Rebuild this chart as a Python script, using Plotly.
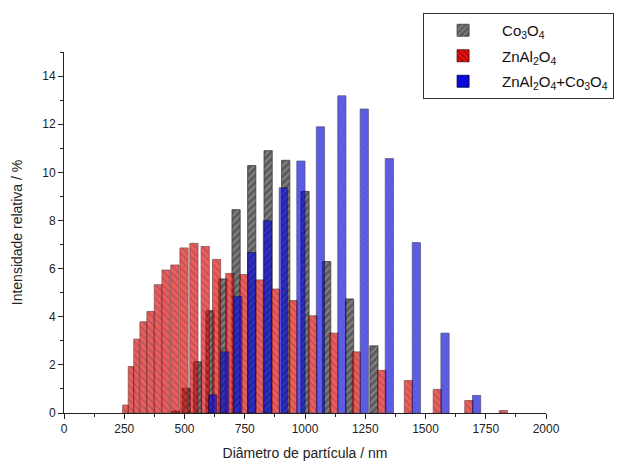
import plotly.graph_objects as go

# ---- data ----
co3o4_x = [463, 507, 554, 606, 659, 714, 779, 847, 920, 1000, 1090, 1185, 1286]
co3o4_y = [0.08, 1.03, 2.13, 4.25, 5.57, 8.45, 10.28, 10.9, 10.5, 9.21, 6.29, 4.74, 2.79]

znal_x = [255, 278, 301, 329, 359, 390, 423, 460, 498, 539, 586, 633, 688, 747,
          812, 878, 951, 1033, 1120, 1213, 1319, 1429, 1549, 1680, 1823]
znal_y = [0.33, 1.93, 3.07, 3.79, 4.22, 5.33, 5.94, 6.15, 6.86, 7.05, 6.92, 6.38,
          5.80, 5.75, 5.53, 5.15, 4.67, 4.04, 3.32, 2.54, 1.77, 1.35, 0.98, 0.52, 0.10]

mix_x = [617, 667, 721, 779, 844, 910, 983, 1064, 1153, 1246, 1350, 1462, 1581, 1712]
mix_y = [0.75, 2.54, 4.85, 6.67, 7.99, 9.36, 10.47, 11.89, 13.18, 12.63, 10.57, 7.08, 3.32, 0.73]

x_ticks = [0, 250, 500, 750, 1000, 1250, 1500, 1750, 2000]
y_ticks = [0, 2, 4, 6, 8, 10, 12, 14]

MAX_W = 34  # nm


def widths(xs):
    out = []
    for i in range(len(xs)):
        w = MAX_W
        if i > 0:
            w = min(w, xs[i] - xs[i - 1])
        if i < len(xs) - 1:
            w = min(w, xs[i + 1] - xs[i])
        out.append(w)
    return out


fig = go.Figure()

fig.add_trace(go.Bar(
    x=co3o4_x, y=co3o4_y, width=widths(co3o4_x),
    name="Co<sub>3</sub>O<sub>4</sub>", legendgroup="a",
    marker=dict(color="#5c5c5c", line=dict(color="#3a3a3a", width=0.8),
                pattern=dict(shape="/", fillmode="overlay", bgcolor="#5c5c5c",
                             fgcolor="#b0b0b0", size=5, solidity=0.35)),
))
fig.add_trace(go.Bar(
    x=znal_x, y=znal_y, width=widths(znal_x),
    name="ZnAl<sub>2</sub>O<sub>4</sub>", legendgroup="b",
    marker=dict(color="#e81010", opacity=0.68, line=dict(color="#500000", width=0.8),
                pattern=dict(shape="\\", fillmode="overlay", bgcolor="#e81010",
                             fgcolor="#3a0000", size=5, solidity=0.3)),
))
fig.add_trace(go.Bar(
    x=mix_x, y=mix_y, width=widths(mix_x),
    name="ZnAl<sub>2</sub>O<sub>4</sub>+Co<sub>3</sub>O<sub>4</sub>", legendgroup="c",
    marker=dict(color="#0a0ae8", opacity=0.66, line=dict(color="#000040", width=0.8),
                pattern=dict(shape="x", fillmode="overlay", bgcolor="#0a0ae8",
                             fgcolor="#000050", size=4, solidity=0.3)),
))

font_family = "Arial, Liberation Sans, sans-serif"

fig.update_layout(
    width=621, height=465,
    barmode="overlay",
    paper_bgcolor="white", plot_bgcolor="white",
    margin=dict(l=64, r=75, t=52, b=52, autoexpand=False),
    font=dict(family=font_family, size=12, color="#222222"),
    showlegend=True,
    legend=dict(x=0.745, y=1.108, xanchor="left", yanchor="top",
                bordercolor="#333333", borderwidth=1, bgcolor="white",
                font=dict(size=15, color="#111111"), tracegroupgap=3,
                itemwidth=68, traceorder="grouped"),
    xaxis=dict(range=[0, 2000], tickvals=x_ticks, ticks="outside", ticklen=5,
               tickwidth=1, tickcolor="#222", showline=True, linecolor="#222",
               linewidth=1, showgrid=False, zeroline=False, automargin=False,
               minor=dict(dtick=125, tick0=0, ticks="outside", ticklen=3, tickcolor="#222"),
               title=dict(text="Diâmetro de partícula / nm", font=dict(size=14), standoff=12)),
    yaxis=dict(range=[0, 15], tickvals=y_ticks, ticks="outside", ticklen=5,
               tickwidth=1, tickcolor="#222", showline=True, linecolor="#222",
               linewidth=1, showgrid=False, zeroline=False, automargin=False,
               minor=dict(dtick=1, tick0=0, ticks="outside", ticklen=3, tickcolor="#222"),
               title=dict(text="Intensidade relativa / %", font=dict(size=14), standoff=16)),
)

fig.write_html("out.html", config={"displayModeBar": False},
               post_script="document.body.style.margin='0px';")
